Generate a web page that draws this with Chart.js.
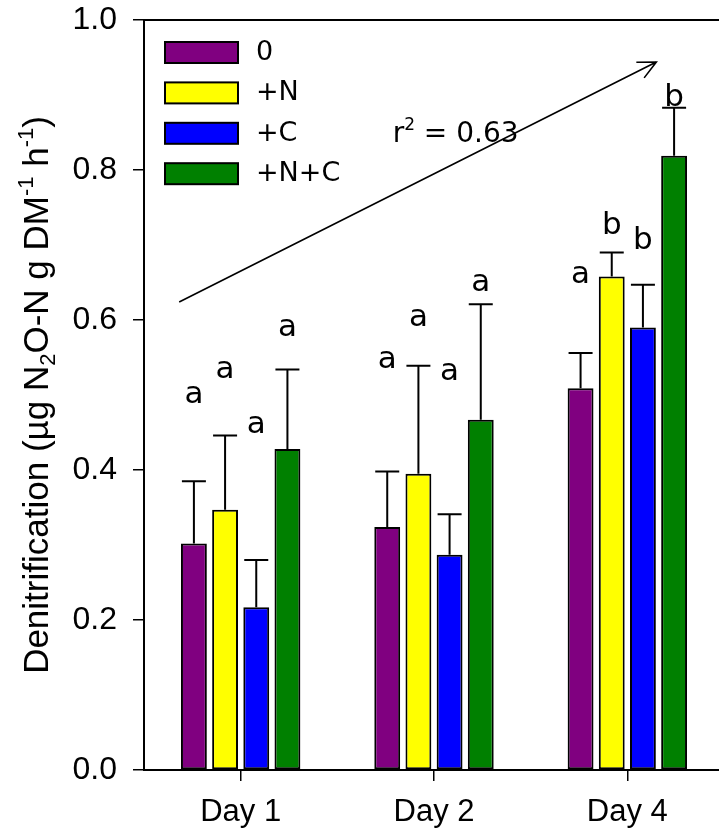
<!DOCTYPE html>
<html>
<head>
<meta charset="utf-8">
<script src="https://cdn.jsdelivr.net/npm/chart.js@4/dist/chart.umd.min.js"></script>
<style>
	html, body { margin: 0; padding: 0; background: #fff; overflow: hidden; }
	canvas { display: block; }
</style>
</head>
<body>
<canvas id="chart" width="730" height="835"></canvas>
<script>
// data
var days = ['Day 1', 'Day 2', 'Day 4'];
var seriesNames = ['0', '+N', '+C', '+N+C'];
var seriesColors = ['#800080', '#ffff00', '#0000ff', '#008000'];

var ctrlValues = [0.302, 0.324, 0.509];
var nValues = [0.347, 0.395, 0.658];
var cValues = [0.217, 0.287, 0.590];
var ncValues = [0.428, 0.467, 0.819];

// standard errors (upper bar only)
var ctrlErr = [0.083, 0.074, 0.047];
var nErr = [0.099, 0.144, 0.032];
var cErr = [0.063, 0.054, 0.057];
var ncErr = [0.106, 0.154, 0.064];

// significance letters and their baseline value
var ctrlLetters = ['a', 'a', 'a'];
var nLetters = ['a', 'a', 'b'];
var cLetters = ['a', 'a', 'b'];
var ncLetters = ['a', 'a', 'b'];
var ctrlLetterY = [0.489, 0.536, 0.649];
var nLetterY = [0.523, 0.592, 0.715];
var cLetterY = [0.449, 0.520, 0.695];
var ncLetterY = [0.579, 0.639, 0.885];

var yTicks = [0, 0.2, 0.4, 0.6, 0.8, 1.0];

// trend arrow (category index, value) and r2 label
var trendStart = [-0.318, 0.624];
var trendEnd = [2.15, 0.944];
var r2Pos = [0.786, 0.838];
var r2Value = '0.63';

var values = [ctrlValues, nValues, cValues, ncValues];
var errors = [ctrlErr, nErr, cErr, ncErr];
var letters = [ctrlLetters, nLetters, cLetters, ncLetters];
var letterY = [ctrlLetterY, nLetterY, cLetterY, ncLetterY];

var axisFont = 'Liberation Sans, Arial, sans-serif';
var noteFont = 'DejaVu Sans, Verdana, sans-serif';

var extras = {
	id: 'extras',
	afterDatasetsDraw: function (chart) {
		var ctx = chart.ctx;
		var xs = chart.scales.x;
		var ys = chart.scales.y;
		var area = chart.chartArea;

		ctx.save();
		ctx.strokeStyle = '#000';
		ctx.fillStyle = '#000';

		// error bars
		ctx.lineWidth = 2;
		chart.data.datasets.forEach(function (ds, di) {
			var meta = chart.getDatasetMeta(di);
			meta.data.forEach(function (bar, i) {
				var top = ys.getPixelForValue(values[di][i] + errors[di][i]);
				ctx.beginPath();
				ctx.moveTo(bar.x, bar.y);
				ctx.lineTo(bar.x, top);
				ctx.moveTo(bar.x - 12, top);
				ctx.lineTo(bar.x + 12, top);
				ctx.stroke();
			});
		});

		// letters
		ctx.font = '31px ' + noteFont;
		ctx.textAlign = 'center';
		ctx.textBaseline = 'alphabetic';
		chart.data.datasets.forEach(function (ds, di) {
			var meta = chart.getDatasetMeta(di);
			meta.data.forEach(function (bar, i) {
				ctx.fillText(letters[di][i], bar.x, ys.getPixelForValue(letterY[di][i]));
			});
		});

		// top frame line
		ctx.lineWidth = 2;
		ctx.beginPath();
		ctx.moveTo(area.left, area.top);
		ctx.lineTo(area.right + 10, area.top);
		ctx.stroke();

		// trend arrow
		var x0 = xs.getPixelForValue(trendStart[0]);
		var y0 = ys.getPixelForValue(trendStart[1]);
		var x1 = xs.getPixelForValue(trendEnd[0]);
		var y1 = ys.getPixelForValue(trendEnd[1]);
		var ang = Math.atan2(y1 - y0, x1 - x0);
		ctx.lineWidth = 1.6;
		ctx.beginPath();
		ctx.moveTo(x0, y0);
		ctx.lineTo(x1, y1);
		ctx.moveTo(x1 + 20 * Math.cos(ang + Math.PI - 0.45), y1 + 20 * Math.sin(ang + Math.PI - 0.45));
		ctx.lineTo(x1, y1);
		ctx.lineTo(x1 + 20 * Math.cos(ang + Math.PI + 0.45), y1 + 20 * Math.sin(ang + Math.PI + 0.45));
		ctx.stroke();

		// r2 label
		var rx = xs.getPixelForValue(r2Pos[0]);
		var ry = ys.getPixelForValue(r2Pos[1]);
		ctx.textAlign = 'left';
		ctx.font = '28px ' + noteFont;
		ctx.fillText('r', rx, ry);
		var w = ctx.measureText('r').width;
		ctx.font = '17px ' + noteFont;
		ctx.fillText('2', rx + w, ry - 12);
		var w2 = ctx.measureText('2').width;
		ctx.font = '28px ' + noteFont;
		ctx.fillText(' = ' + r2Value, rx + w + w2, ry);

		// legend
		ctx.font = '27px ' + noteFont;
		ctx.textBaseline = 'middle';
		chart.data.datasets.forEach(function (ds, di) {
			var bx = area.left + 21;
			var by = area.top + 22 + di * 40.4;
			ctx.fillStyle = ds.backgroundColor;
			ctx.fillRect(bx, by, 73, 21);
			ctx.lineWidth = 2;
			ctx.strokeRect(bx, by, 73, 21);
			ctx.fillStyle = '#000';
			ctx.fillText(ds.label, bx + 91, by + 11);
		});

		ctx.restore();
	},
	afterDraw: function (chart) {
		// y axis title with sub/superscripts
		var ctx = chart.ctx;
		var area = chart.chartArea;
		var parts = [
			['Denitrification (\u00b5g N', 0],
			['2', 1],
			['O-N g DM', 0],
			['-1', -1],
			[' h', 0],
			['-1', -1],
			[')', 0]
		];
		var big = '35px ' + axisFont;
		var small = '22px ' + axisFont;
		ctx.save();
		var total = 0;
		parts.forEach(function (p) {
			ctx.font = p[1] ? small : big;
			total += ctx.measureText(p[0]).width;
		});
		ctx.translate(48, (area.top + area.bottom) / 2);
		ctx.rotate(-Math.PI / 2);
		ctx.fillStyle = '#000';
		ctx.textBaseline = 'alphabetic';
		ctx.textAlign = 'left';
		var cx = -total / 2;
		parts.forEach(function (p) {
			ctx.font = p[1] ? small : big;
			var dy = p[1] === 1 ? 7 : (p[1] === -1 ? -15 : 0);
			ctx.fillText(p[0], cx, dy);
			cx += ctx.measureText(p[0]).width;
		});
		ctx.restore();
	}
};

new Chart(document.getElementById('chart'), {
	type: 'bar',
	data: {
		labels: days,
		datasets: seriesNames.map(function (name, i) {
			return {
				label: name,
				data: values[i],
				backgroundColor: seriesColors[i],
				borderColor: '#000',
				borderWidth: 2,
				borderSkipped: false,
				categoryPercentage: 0.645,
				barPercentage: 0.83
			};
		})
	},
	options: {
		responsive: false,
		animation: false,
		layout: { padding: { left: 0, top: 20, right: 6, bottom: 0 } },
		plugins: {
			legend: { display: false },
			tooltip: { enabled: false }
		},
		scales: {
			x: {
				afterFit: function (scale) {
					scale.height = 65;
					scale.paddingLeft = 0;
					scale.paddingRight = 0;
				},
				grid: { display: true, offset: false, drawOnChartArea: false, drawTicks: true, tickLength: 11, color: '#000', lineWidth: 1.5 },
				border: { display: true, color: '#000', width: 2 },
				ticks: { color: '#000', padding: 13, font: { family: axisFont, size: 31 } }
			},
			y: {
				min: 0,
				max: 1,
				afterFit: function (scale) {
					scale.width = 144;
					scale.paddingTop = 0;
					scale.paddingBottom = 0;
				},
				afterBuildTicks: function (scale) {
					scale.ticks = yTicks.map(function (v) { return { value: v }; });
				},
				grid: { drawOnChartArea: false, drawTicks: true, tickLength: 11, color: '#000', lineWidth: 1.5 },
				border: { display: true, color: '#000', width: 2 },
				ticks: {
					color: '#000',
					padding: 16,
					font: { family: axisFont, size: 32 },
					callback: function (v) { return Number(v).toFixed(1); }
				}
			}
		}
	},
	plugins: [extras]
});
</script>
</body>
</html>
